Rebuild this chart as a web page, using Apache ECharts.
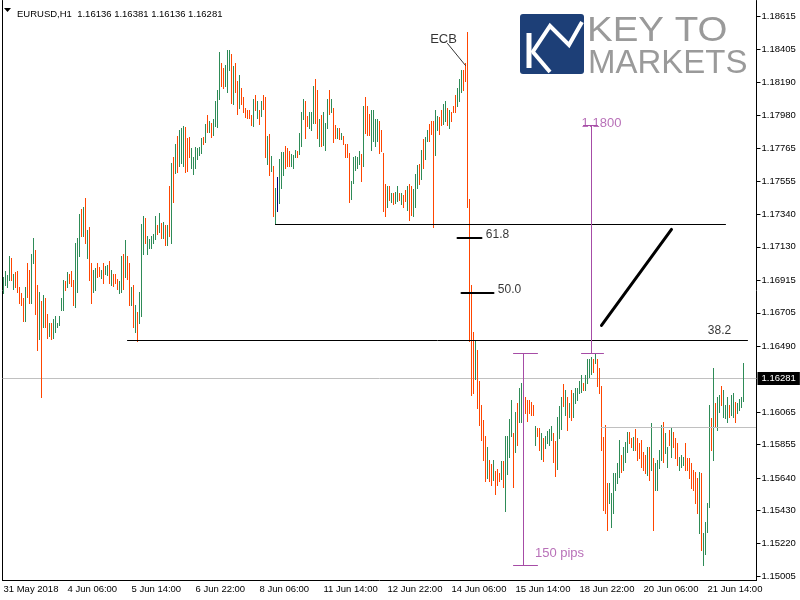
<!DOCTYPE html>
<html>
<head>
<meta charset="utf-8">
<script src="https://cdn.jsdelivr.net/npm/echarts@6/dist/echarts.min.js"></script>
<style>
  html, body { margin: 0; padding: 0; background: #fff; }
  #chart { width: 800px; height: 600px; }
</style>
</head>
<body>
<div id="chart"></div>
<script>
// EURUSD H1, 31 May - 22 Jun 2018, one entry per hourly bar
const highs = [
  1.16933,1.16971,1.16946,1.17068,1.17055,1.16952,1.16965,1.16971,1.16868,1.16830,
  1.16797,1.16868,1.17029,1.16978,1.17087,1.17184,1.17107,1.16881,1.16836,1.16784,
  1.16817,1.16797,1.16694,1.16636,1.16636,1.16662,1.16687,1.16642,1.16687,1.16797,
  1.16913,1.16907,1.16965,1.16958,1.16971,1.16913,1.17152,1.17184,1.17339,1.17377,
  1.17384,1.17448,1.17236,1.17255,1.17023,1.16978,1.16991,1.17023,1.16997,1.16978,
  1.17023,1.17004,1.17010,1.17036,1.16978,1.16952,1.16958,1.16920,1.16907,1.17068,
  1.17081,1.17171,1.17068,1.17029,1.16868,1.16881,1.16752,1.16713,1.16836,1.17274,
  1.17326,1.17319,1.17203,1.17178,1.17197,1.17210,1.17326,1.17268,1.17345,1.17281,
  1.17287,1.17268,1.17268,1.17525,1.17673,1.17712,1.17796,1.17847,1.17880,1.17893,
  1.17912,1.17905,1.17834,1.17841,1.17770,1.17712,1.17776,1.17764,1.17776,1.17834,
  1.17841,1.17925,1.17983,1.17944,1.17931,1.17951,1.18067,1.18138,1.18389,1.18312,
  1.18286,1.18299,1.18396,1.18402,1.18370,1.18293,1.18312,1.18196,1.18235,1.18157,
  1.18099,1.18028,1.18015,1.18009,1.17983,1.18080,1.18106,1.18067,1.18009,1.18067,
  1.18106,1.18099,1.17847,1.17860,1.17718,1.17654,1.17512,1.17577,1.17699,1.17744,
  1.17744,1.17783,1.17770,1.17751,1.17731,1.17725,1.17757,1.17751,1.17867,1.18002,
  1.18080,1.18067,1.17976,1.17996,1.17996,1.18164,1.18209,1.18138,1.17957,1.17983,
  1.17996,1.17931,1.18086,1.18144,1.18086,1.18028,1.17918,1.17899,1.17893,1.17867,
  1.17847,1.17796,1.17796,1.17738,1.17557,1.17712,1.17718,1.17712,1.17751,1.17731,
  1.18041,1.18093,1.18041,1.17989,1.18009,1.18015,1.17957,1.17957,1.17938,1.17880,
  1.17738,1.17532,1.17525,1.17525,1.17480,1.17474,1.17486,1.17519,1.17480,1.17480,
  1.17461,1.17499,1.17525,1.17532,1.17525,1.17506,1.17602,1.17660,1.17667,1.17757,
  1.17828,1.17841,1.17880,1.17925,1.17938,1.17938,1.18015,1.17976,1.17970,1.18015,
  1.18054,1.18073,1.18028,1.18015,1.17996,1.18041,1.18106,1.18151,1.18209,1.18273,
  1.18267,1.18312,1.18518,1.17441,1.16881,1.16578,1.16526,1.16468,1.16268,1.16108,
  1.16011,1.15908,1.15837,1.15753,1.15727,1.15753,1.15682,1.15695,1.15669,1.15747,
  1.15747,1.15908,1.15908,1.16018,1.16140,1.15927,1.16063,1.16121,1.16223,1.16255,
  1.16268,1.16165,1.16140,1.16140,1.16127,1.16108,1.15972,1.15960,1.15960,1.15927,
  1.15895,1.15908,1.15940,1.15953,1.15972,1.15927,1.15876,1.16030,1.16101,1.16165,
  1.16243,1.16204,1.16159,1.16121,1.16204,1.16185,1.16223,1.16217,1.16268,1.16301,
  1.16249,1.16301,1.16410,1.16410,1.16417,1.16410,1.16442,1.16410,1.16346,1.16236,
  1.15901,1.15979,1.15605,1.15605,1.15541,1.15669,1.15669,1.15734,1.15882,1.15785,
  1.15837,1.15869,1.15934,1.15934,1.15895,1.15901,1.15953,1.15895,1.15863,1.15882,
  1.15805,1.15785,1.15837,1.15837,1.15992,1.15766,1.15734,1.15753,1.15818,1.15979,
  1.15998,1.15927,1.15837,1.15947,1.15960,1.15934,1.15895,1.15863,1.15773,1.15785,
  1.15773,1.15863,1.15766,1.15766,1.15734,1.15689,1.15676,1.15637,1.15676,1.15669,
  1.15282,1.15353,1.15476,1.16108,1.16024,1.16346,1.16121,1.16159,1.16172,1.16236,
  1.16204,1.16108,1.16159,1.16108,1.16172,1.16185,1.16127,1.16121,1.16152,1.16159,
  1.16381
];
const lows = [
  1.16830,1.16881,1.16868,1.16913,1.16913,1.16855,1.16868,1.16836,1.16765,1.16758,
  1.16649,1.16649,1.16804,1.16771,1.16771,1.17023,1.16700,1.16468,1.16533,1.16165,
  1.16610,1.16610,1.16545,1.16558,1.16533,1.16545,1.16578,1.16610,1.16623,1.16726,
  1.16726,1.16849,1.16868,1.16900,1.16875,1.16758,1.16745,1.16836,1.17074,1.17197,
  1.17197,1.17152,1.17055,1.16913,1.16765,1.16836,1.16849,1.16933,1.16939,1.16926,
  1.16900,1.16958,1.16946,1.16900,1.16881,1.16875,1.16894,1.16855,1.16830,1.16836,
  1.16855,1.16933,1.16920,1.16758,1.16758,1.16616,1.16584,1.16520,1.16642,1.16687,
  1.17087,1.17152,1.17087,1.17120,1.17120,1.17152,1.17178,1.17210,1.17223,1.17190,
  1.17184,1.17145,1.17139,1.17203,1.17152,1.17416,1.17609,1.17615,1.17648,1.17673,
  1.17654,1.17615,1.17622,1.17706,1.17641,1.17602,1.17641,1.17699,1.17725,1.17738,
  1.17796,1.17809,1.17873,1.17873,1.17841,1.17854,1.17912,1.17905,1.18086,1.18170,
  1.18157,1.18170,1.18131,1.18273,1.18060,1.18054,1.18131,1.17989,1.18028,1.18054,
  1.17996,1.17970,1.17963,1.17963,1.17918,1.17912,1.18015,1.17963,1.17925,1.17976,
  1.18021,1.17706,1.17667,1.17590,1.17622,1.17326,1.17274,1.17358,1.17410,1.17512,
  1.17590,1.17641,1.17654,1.17648,1.17648,1.17641,1.17706,1.17706,1.17731,1.17783,
  1.17957,1.17834,1.17912,1.17899,1.17886,1.17931,1.17931,1.17834,1.17783,1.17783,
  1.17789,1.17757,1.17893,1.17989,1.17996,1.17809,1.17834,1.17834,1.17828,1.17828,
  1.17796,1.17712,1.17712,1.17416,1.17441,1.17544,1.17628,1.17641,1.17667,1.17557,
  1.17654,1.17867,1.17854,1.17854,1.17757,1.17815,1.17783,1.17815,1.17738,1.17751,
  1.17358,1.17326,1.17390,1.17435,1.17416,1.17403,1.17410,1.17423,1.17435,1.17403,
  1.17390,1.17423,1.17365,1.17300,1.17332,1.17326,1.17390,1.17512,1.17532,1.17570,
  1.17635,1.17693,1.17815,1.17815,1.17860,1.17255,1.17725,1.17880,1.17860,1.17918,
  1.17925,1.17938,1.17918,1.17893,1.17938,1.17996,1.18002,1.18041,1.18067,1.18125,
  1.18144,1.18196,1.17390,1.16526,1.16178,1.16185,1.16275,1.16088,1.15979,1.15882,
  1.15753,1.15618,1.15637,1.15618,1.15592,1.15624,1.15534,1.15592,1.15618,1.15631,
  1.15579,1.15424,1.15663,1.15773,1.15908,1.15579,1.15805,1.15850,1.15998,1.15998,
  1.15966,1.16056,1.16005,1.16056,1.16043,1.16043,1.15850,1.15908,1.15818,1.15760,
  1.15747,1.15831,1.15863,1.15850,1.15882,1.15740,1.15650,1.15695,1.15895,1.15953,
  1.16101,1.16043,1.15947,1.16030,1.16011,1.16030,1.16121,1.16140,1.16185,1.16191,
  1.16204,1.16204,1.16249,1.16288,1.16313,1.16320,1.16378,1.16236,1.16185,1.15818,
  1.15431,1.15411,1.15302,1.15476,1.15327,1.15411,1.15560,1.15605,1.15644,1.15676,
  1.15689,1.15740,1.15805,1.15863,1.15837,1.15818,1.15818,1.15753,1.15766,1.15708,
  1.15689,1.15669,1.15657,1.15624,1.15689,1.15302,1.15560,1.15560,1.15702,1.15753,
  1.15740,1.15798,1.15708,1.15850,1.15773,1.15837,1.15766,1.15721,1.15689,1.15708,
  1.15721,1.15689,1.15689,1.15637,1.15573,1.15560,1.15476,1.15411,1.15282,1.15173,
  1.15076,1.15153,1.15289,1.15450,1.15818,1.15753,1.15966,1.15947,1.16063,1.16108,
  1.16030,1.16024,1.15998,1.16030,1.16043,1.16030,1.15998,1.16056,1.16076,1.16095,
  1.16136
];
// G = up bar, R = down bar, N = unchanged
const barDirs =
  'GGGGRGRRRR' + 'RGRRGGRRGR' + 'GRRGRGGGGG' + 'GRGRRRGGGR' + 'GRGRRGGRRG' +
  'RGGRGRRRGG' + 'RGRRGRGRGG' + 'GRGGGGGRGR' + 'GRGRGRGRGG' + 'GRRRGGGGGG' +
  'RGRGRGGGGR' + 'RGGGRGRRGR' + 'RRRRRGRGRG' + 'RRGRGRGNGG' + 'GRRRGGGRGG' +
  'GRRGGGRRGR' + 'GGGRGRRGRG' + 'RRRRGGGGGR' + 'GRRRGGGGRR' + 'RRGRGRGGRG' +
  'RRGRRGGGRG' + 'RGGRRRGGRR' + 'GGRGRRRGGG' + 'RRRRRRGRRR' + 'RRGRRGRRRG' +
  'RGGGGRGRGG' + 'RRRRRRGRRG' + 'RGGGGRRGGG' + 'RGRGRGGGGG' + 'RGGGGRGRRR' +
  'RRRGGGGGGR' + 'GGGRRGRRRR' + 'RRGRGRGGGG' + 'RGGRGRRRGG' + 'GRRRRRRRGR' +
  'GGGGRGRGGR' + 'GGGRGGRGGG' + 'G';

const timeLabels = ['31 May 2018', '4 Jun 06:00', '5 Jun 14:00', '6 Jun 22:00', '8 Jun 06:00',
  '11 Jun 14:00', '12 Jun 22:00', '14 Jun 06:00', '15 Jun 14:00', '18 Jun 22:00',
  '20 Jun 06:00', '21 Jun 14:00'];
const priceTicks = [1.15005, 1.15220, 1.15430, 1.15640, 1.15855, 1.16065, 1.16490, 1.16705,
  1.16915, 1.17130, 1.17340, 1.17555, 1.17765, 1.17980, 1.18190, 1.18405, 1.18615];
const priceMin = 1.14979;
const priceMax = 1.18718;
const slotCount = 377; // bars plus chart shift on the right
const lastPrice = 1.16281;
const header = 'EURUSD,H1  1.16136 1.16381 1.16136 1.16281';

// drawn objects: [fromBar, fromPrice, toBar, toPrice, style]
const drawings = [
  [299, 1.15966, 376, 1.15966, 0],  // grey level
  [136, 1.17274, 361, 1.17274, 1],  // upper level
  [62, 1.16526, 372, 1.16526, 1],   // 38.2 level
  [227, 1.17187, 239, 1.17187, 2],  // 61.8 mark
  [229, 1.16832, 245, 1.16832, 2],  // 50.0 mark
  [299, 1.16623, 334, 1.17242, 3],  // trend stroke
  [222, 1.18441, 231, 1.18299, 4],  // ECB leader
  [260, 1.16442, 260, 1.15076, 5],  // 150 pips range
  [255, 1.16442, 267, 1.16442, 5],
  [255, 1.15076, 267, 1.15076, 5],
  [294, 1.17912, 294, 1.16442, 5],  // 1.1800 range
  [290, 1.17912, 297, 1.17912, 5],
  [289, 1.16442, 300, 1.16442, 5]
];
const PURPLE = '#a64ca6';
const drawStyles = [
  { stroke: '#c0c0c0', lineWidth: 1 },
  { stroke: '#000', lineWidth: 1 },
  { stroke: '#000', lineWidth: 2 },
  { stroke: '#000', lineWidth: 3 },
  { stroke: '#333', lineWidth: 1 },
  { stroke: PURPLE, lineWidth: 1 }
];
const notes = [
  { text: 'ECB', at: [220, 1.18467], size: 13, color: '#000' },
  { text: '61.8', at: [247, 1.17210], size: 12, color: '#000' },
  { text: '50.0', at: [253, 1.16855], size: 12, color: '#000' },
  { text: '38.2', at: [358, 1.16591], size: 12, color: '#000' },
  { text: '150 pips', at: [278, 1.15153], size: 13, color: PURPLE },
  { text: '1.1800', at: [299, 1.17925], size: 13, color: PURPLE }
];

const barColors = ['#2e8b57', '#ff4500', '#000080'];
const FONT = 'Liberation Sans';

const slots = Array.from({ length: slotCount }, (_, i) => String(i));
const bars = highs.map((h, i) => [i, lows[i], h, 'GRN'.indexOf(barDirs[i])]);

function drawBar(params, api) {
  const lo = api.coord([api.value(0), api.value(1)]);
  const hi = api.coord([api.value(0), api.value(2)]);
  const x = Math.floor(lo[0]) + 0.5;
  return {
    type: 'line',
    shape: { x1: x, y1: Math.round(lo[1]) + 1, x2: x, y2: Math.round(hi[1]) },
    style: { stroke: barColors[api.value(3)], lineWidth: 1 }
  };
}

function drawSegment(params, api) {
  const a = api.coord([api.value(0), api.value(1)]);
  const b = api.coord([api.value(2), api.value(3)]);
  const st = drawStyles[api.value(4)];
  const snap = v => (st.lineWidth % 2 === 1 ? Math.floor(v) + 0.5 : Math.round(v));
  if (a[0] === b[0]) { a[0] = b[0] = snap(a[0]); }
  if (Math.abs(a[1] - b[1]) < 0.01) { a[1] = b[1] = snap(a[1]); }
  return {
    type: 'line',
    shape: { x1: a[0], y1: a[1], x2: b[0], y2: b[1] },
    style: { stroke: st.stroke, lineWidth: st.lineWidth, lineCap: 'round' }
  };
}

const chart = echarts.init(document.getElementById('chart'));
chart.setOption({
  animation: false,
  backgroundColor: '#fff',
  title: {
    text: header, left: 12, top: 4,
    textStyle: { fontSize: 9.5, fontWeight: 'normal', color: '#000', fontFamily: FONT }
  },
  grid: { left: 2.5, right: 43.5, top: 0.5, bottom: 19.5 },
  xAxis: {
    type: 'category',
    data: slots,
    boundaryGap: true,
    axisLine: { lineStyle: { color: '#000', width: 1 } },
    axisTick: { interval: 31, alignWithLabel: true, length: 4, lineStyle: { color: '#000' } },
    axisLabel: {
      interval: 31, align: 'left', margin: 4,
      formatter: (v, idx) => timeLabels[idx / 32] || '',
      color: '#000', fontSize: 9.5, fontFamily: FONT
    },
    splitLine: { show: false }
  },
  yAxis: [{
    type: 'value', position: 'right', min: priceMin, max: priceMax,
    axisLine: { show: true, lineStyle: { color: '#000', width: 1 } },
    axisTick: { show: true, customValues: priceTicks, length: 4, lineStyle: { color: '#000' } },
    axisLabel: {
      customValues: priceTicks, formatter: v => v.toFixed(5), margin: 5,
      color: '#000', fontSize: 9.5, fontFamily: FONT
    },
    splitLine: { show: false }
  }, {
    type: 'value', position: 'left', min: priceMin, max: priceMax,
    axisLine: { show: true, lineStyle: { color: '#000', width: 1 } },
    axisTick: { show: false }, axisLabel: { show: false }, splitLine: { show: false }
  }],
  series: [{
    type: 'custom',
    name: 'EURUSD',
    renderItem: drawBar,
    data: bars,
    encode: { x: 0, y: [1, 2] },
    z: 2,
    markLine: {
      silent: true,
      precision: 5,
      symbol: ['none', 'none'],
      lineStyle: { color: '#c0c0c0', width: 1, type: 'solid' },
      emphasis: { disabled: true },
      z: 1,
      data: [{
        yAxis: lastPrice,
        label: {
          show: true, position: 'end', formatter: lastPrice.toFixed(5), distance: 1,
          color: '#fff', backgroundColor: '#000', padding: [2, 4, 1, 4],
          fontSize: 9.5, fontFamily: FONT
        }
      }]
    }
  }, {
    type: 'custom',
    name: 'drawings',
    renderItem: drawSegment,
    data: drawings,
    encode: { x: [0, 2], y: [1, 3] },
    silent: true,
    z: 3
  }, {
    type: 'scatter',
    name: 'notes',
    symbol: 'circle',
    symbolSize: 1,
    itemStyle: { color: 'rgba(0,0,0,0)' },
    silent: true,
    z: 4,
    data: notes.map(n => ({
      value: n.at,
      label: {
        show: true, position: 'inside', formatter: n.text,
        color: n.color, fontSize: n.size, fontFamily: FONT
      }
    }))
  }],
  graphic: [
    { type: 'polygon', shape: { points: [[4, 8], [11, 8], [7.5, 12]] }, style: { fill: '#000' } },
    { type: 'rect', shape: { x: 520, y: 14, width: 64, height: 60, r: 3 }, style: { fill: '#1d3f77' } },
    { type: 'line', shape: { x1: 529, y1: 33, x2: 529, y2: 68 }, style: { stroke: '#fff', lineWidth: 5 } },
    { type: 'polyline', shape: { points: [[532, 53], [550, 26], [569, 45], [582, 22]] },
      style: { stroke: '#fff', lineWidth: 4, fill: null } },
    { type: 'line', shape: { x1: 533, y1: 52, x2: 550, y2: 72 }, style: { stroke: '#fff', lineWidth: 4 } },
    { type: 'text', x: 587, y: 14, scaleX: 1.1,
      style: { text: 'KEY TO', fontSize: 35, fontFamily: FONT, fill: '#9a9a9a' } },
    { type: 'text', x: 588, y: 47, scaleX: 0.97,
      style: { text: 'MARKETS', fontSize: 34, fontFamily: FONT, fill: '#9a9a9a' } }
  ]
});
</script>
</body>
</html>
